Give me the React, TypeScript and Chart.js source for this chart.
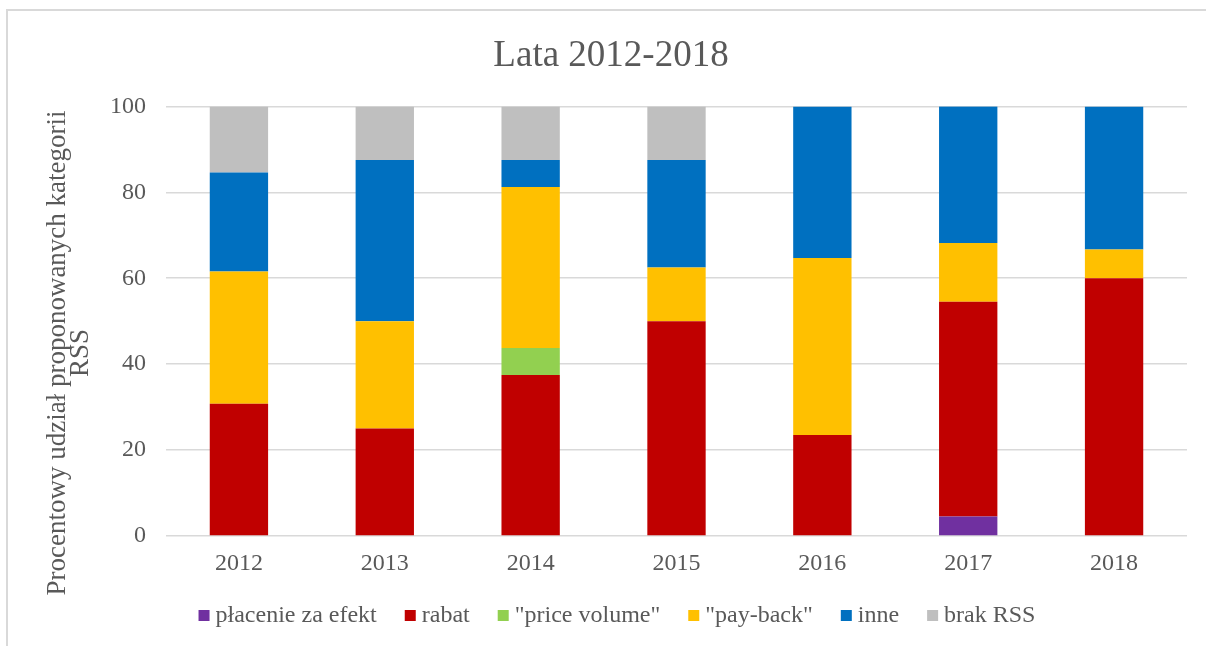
import React, { useEffect, useRef } from "react";
import { Chart, registerables } from "chart.js";

Chart.register(...registerables);

const categories = ["2012", "2013", "2014", "2015", "2016", "2017", "2018"];
const placenieZaEfekt = [0, 0, 0, 0, 0, 4.55, 0];
const rabat = [30.77, 25, 37.5, 50, 23.53, 50, 60];
const priceVolume = [0, 0, 6.25, 0, 0, 0, 0];
const payBack = [30.77, 25, 37.5, 12.5, 41.18, 13.64, 6.67];
const inne = [23.08, 37.5, 6.25, 25, 35.29, 31.82, 33.33];
const brakRSS = [15.38, 12.5, 12.5, 12.5, 0, 0, 0];
const seriesNames = ["płacenie za efekt", "rabat", "\"price volume\"", "\"pay-back\"", "inne", "brak RSS"];
const seriesColors = ["#7030A0", "#C00000", "#92D050", "#FFC000", "#0070C0", "#BFBFBF"];
const yTicks = [0, 20, 40, 60, 80, 100];
const chartTitle = "Lata 2012-2018";
const yTitleLines = ["Procentowy udział proponowanych kategorii", "RSS"];

const FONT = "'Liberation Serif', 'Times New Roman', serif";
const TEXT = "#595959";

const yTitlePlugin = {
  id: "yTitle",
  afterLayout(chart: any) {
    if (chart.titleBlock) {
      chart.titleBlock.left = 35;
      chart.titleBlock.right = 1187;
    }
  },
  afterDraw(chart: any) {
    const ctx = chart.ctx;
    ctx.save();
    ctx.fillStyle = TEXT;
    ctx.font = `27px ${FONT}`;
    ctx.textAlign = "center";
    ctx.textBaseline = "alphabetic";
    const xs = [65, 88];
    yTitleLines.forEach((line, i) => {
      ctx.save();
      ctx.translate(xs[i], 353);
      ctx.rotate(-Math.PI / 2);
      ctx.fillText(line, 0, 0);
      ctx.restore();
    });
    ctx.restore();
  },
};

const legendPlugin = {
  id: "customLegend",
  afterDraw(chart: any) {
    const ctx = chart.ctx;
    const box = 11;
    const gapText = 6;
    const gapItem = 28;
    const centerX = 617;
    const y = 616;
    ctx.save();
    ctx.font = `24px ${FONT}`;
    ctx.textBaseline = "middle";
    ctx.textAlign = "left";
    const items = chart.data.datasets.map((ds: any) => ({
      text: ds.label as string,
      color: ds.backgroundColor as string,
      w: ctx.measureText(ds.label).width,
    }));
    const total =
      items.reduce((s: number, it: any) => s + box + gapText + it.w, 0) + gapItem * (items.length - 1);
    let x = centerX - total / 2;
    items.forEach((it: any) => {
      ctx.fillStyle = it.color;
      ctx.fillRect(x, y - 6, box, box);
      ctx.fillStyle = TEXT;
      ctx.fillText(it.text, x + box + gapText, y);
      x += box + gapText + it.w + gapItem;
    });
    ctx.restore();
  },
};

export default function App() {
  const ref = useRef<HTMLCanvasElement | null>(null);
  useEffect(() => {
    if (!ref.current) return;
    const values = [placenieZaEfekt, rabat, priceVolume, payBack, inne, brakRSS];
    const chart = new Chart(ref.current, {
      type: "bar",
      data: {
        labels: categories,
        datasets: values.map((d, i) => ({
          label: seriesNames[i],
          data: d,
          backgroundColor: seriesColors[i],
          borderWidth: 0,
          barPercentage: 0.4,
          categoryPercentage: 1,
        })),
      },
      options: {
        responsive: false,
        animation: false,
        devicePixelRatio: 1,
        layout: { padding: { top: 0, left: 0, right: 19, bottom: 68 } },
        plugins: {
          title: {
            display: true,
            text: chartTitle,
            color: TEXT,
            font: { family: FONT, size: 37, weight: "normal" },
            padding: { top: 34, bottom: 28 },
          },
          legend: { display: false },
          tooltip: { enabled: false },
        },
        scales: {
          x: {
            stacked: true,
            afterFit(scale: any) {
              scale.height = 42;
            },
            grid: { display: false, drawTicks: false },
            border: { display: false },
            ticks: { color: TEXT, font: { family: FONT, size: 24 }, padding: 13 },
          },
          y: {
            stacked: true,
            min: 0,
            max: 100,
            afterFit(scale: any) {
              scale.width = 166;
            },
            afterBuildTicks(scale: any) {
              scale.ticks = yTicks.map((v) => ({ value: v }));
            },
            grid: { color: "#D9D9D9", lineWidth: 1.5, drawTicks: false },
            border: { display: false },
            ticks: { color: TEXT, font: { family: FONT, size: 24 }, padding: 20 },
          },
        },
      },
      plugins: [yTitlePlugin, legendPlugin],
    });
    return () => chart.destroy();
  }, []);

  return (
    <div style={{ position: "fixed", left: 0, top: 0, width: 1206, height: 646, background: "#fff", overflow: "hidden" }}>
      <div
        style={{
          position: "absolute",
          left: 6,
          top: 9,
          width: 1230,
          height: 680,
          border: "2px solid #D9D9D9",
          boxSizing: "border-box",
        }}
      />
      <canvas ref={ref} width={1206} height={646} style={{ position: "absolute", left: 0, top: 0 }} />
    </div>
  );
}
